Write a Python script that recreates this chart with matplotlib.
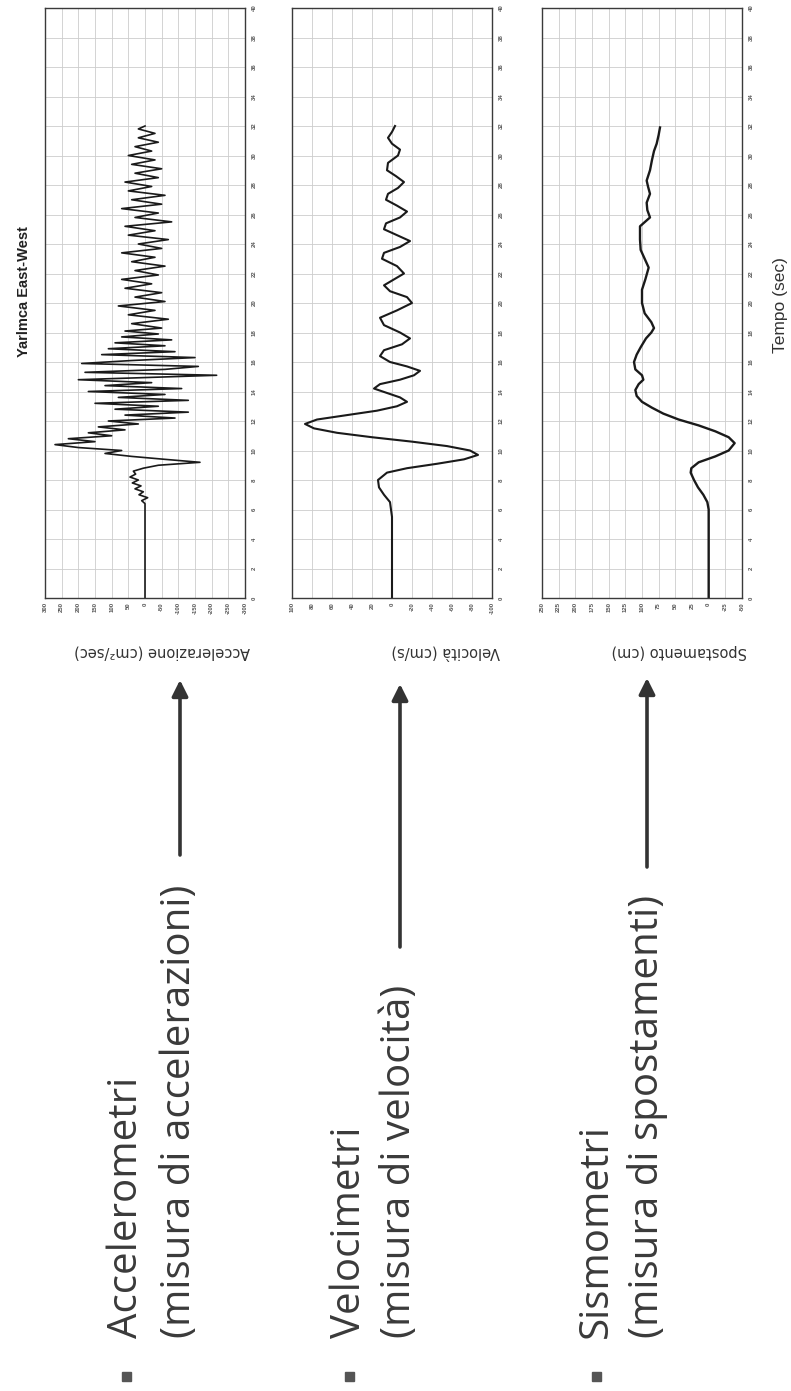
"""Rotated slide: seismometer types next to the Yarlmca East-West records."""

import matplotlib

matplotlib.use("Agg")

import matplotlib.pyplot as plt
from matplotlib.patches import FancyArrowPatch, Rectangle

W, H = 791, 1391

# ---- data -----------------------------------------------------------------
time_ticks = [0, 2, 4, 6, 8, 10, 12, 14, 16, 18, 20, 22, 24, 26, 28, 30, 32, 34, 36, 38, 40]
acc_ticks = [300, 250, 200, 150, 100, 50, 0, -50, -100, -150, -200, -250, -300]
vel_ticks = [100, 80, 60, 40, 20, 0, -20, -40, -60, -80, -100]
disp_ticks = [250, 225, 200, 175, 150, 125, 100, 75, 50, 25, 0, -25, -50]

acc_t = [0, 6.4, 6.6, 6.8, 7.0, 7.2, 7.4, 7.6, 7.8, 8.0, 8.2, 8.4, 8.6, 8.8, 9.0, 9.2,
         9.4, 9.6, 9.8, 10.0, 10.2, 10.4, 10.6, 10.8, 11.0, 11.2, 11.4, 11.6, 11.8,
         12.0, 12.2, 12.4, 12.6, 12.8, 13.0, 13.2, 13.4, 13.6, 13.8, 14.0, 14.2, 14.4,
         14.6, 14.8, 15.1, 15.3, 15.5, 15.7, 15.9, 16.1, 16.3, 16.5, 16.7, 16.9, 17.1,
         17.3, 17.5, 17.7, 17.9, 18.1, 18.3, 18.6, 18.9, 19.2, 19.5, 19.8, 20.1, 20.4,
         20.7, 21.0, 21.3, 21.6, 21.9, 22.2, 22.5, 22.8, 23.1, 23.4, 23.7, 24.0, 24.3,
         24.6, 24.9, 25.2, 25.5, 25.8, 26.1, 26.4, 26.7, 27.0, 27.3, 27.6, 27.9, 28.2,
         28.5, 28.8, 29.1, 29.4, 29.7, 30.0, 30.3, 30.6, 30.9, 31.2, 31.5, 31.8, 32.0]
acc_v = [0, 0, 10, -8, 18, 5, 30, 12, 38, 20, 45, 28, 35, 5, -40, -165,
         -60, 40, 120, 70, 200, 270, 150, 230, 100, 170, 60, 140, 20,
         110, -90, 60, -130, 90, -40, 150, -130, 80, -60, 170, -110, 120,
         -20, 200, -215, 180, -60, -160, 190, 40, -150, 130, -90, 110, -60,
         90, -80, 70, -40, 60, -50, 40, -70, 50, -30, 80, -60, 30,
         -50, 60, -20, 70, -40, 30, -60, 40, -30, 70, -50, 20, -70,
         50, -30, 60, -80, 30, -40, 70, -50, 40, -60, 50, -20, 60,
         -40, 30, -50, 40, -30, 50, -20, 30, -40, 20, -30, 20, 0]

vel_t = [0, 5.5, 6.5, 7.0, 7.5, 8.0, 8.5, 8.8, 9.1, 9.4, 9.7, 10.0, 10.3, 10.6, 10.9,
         11.2, 11.5, 11.8, 12.1, 12.4, 12.7, 13.0, 13.3, 13.6, 13.9, 14.2, 14.5, 14.8,
         15.1, 15.4, 15.7, 16.0, 16.4, 16.8, 17.2, 17.6, 18.0, 18.5, 19.0, 19.5, 20.0,
         20.4, 20.8, 21.2, 21.6, 22.0, 22.5, 23.0, 23.4, 23.8, 24.2, 24.6, 25.0, 25.4,
         25.8, 26.2, 26.6, 27.0, 27.4, 27.8, 28.2, 28.6, 29.0, 29.5, 30.0, 30.4, 30.8,
         31.2, 31.6, 32.0]
vel_v = [0, 0, 2, 8, 13, 14, 5, -15, -45, -72, -86, -78, -55, -20, 20,
         55, 78, 87, 75, 45, 15, -5, -15, -8, 5, 18, 12, -8,
         -22, -28, -15, 2, 12, 8, -10, -18, -8, 8, 12, -5, -20,
         -15, 2, 8, -2, -12, -5, 10, 8, -8, -18, -5, 8, 6,
         -8, -15, -5, 6, 4, -6, -12, -4, 5, 4, -6, -8, 0,
         4, 0, -3]

disp_t = [0, 6.0, 6.5, 7.0, 7.5, 8.0, 8.5, 8.8, 9.2, 9.6, 10.0, 10.5, 10.9, 11.3, 11.7,
          12.1, 12.5, 12.9, 13.3, 13.7, 14.1, 14.5, 14.8, 15.1, 15.5, 16.0, 16.5, 17.0,
          17.6, 18.0, 18.3, 18.7, 19.3, 20.0, 20.9, 21.6, 22.4, 23.0, 23.6, 24.3, 25.2,
          25.8, 26.3, 26.8, 27.4, 27.9, 28.3, 29.0, 29.7, 30.3, 30.8, 31.4, 31.9]
disp_v = [0, 0, 2, 8, 16, 22, 27, 26, 15, -10, -30, -39, -30, -10, 15,
          45, 68, 85, 100, 108, 110, 105, 98, 100, 110, 112, 108, 102,
          94, 86, 82, 86, 96, 100, 100, 95, 90, 96, 102, 103, 103,
          88, 92, 93, 88, 91, 93, 88, 85, 82, 78, 75, 73]

panel_labels = ["Accelerazione (cm²/sec)", "Velocità (cm/s)", "Spostamento (cm)"]
bullet_names = ["Accelerometri", "Velocimetri", "Sismometri"]
bullet_notes = ["(misura di accelerazioni)", "(misura di velocità)", "(misura di spostamenti)"]


def fx(px):
    return px / W


def fy(py):
    return 1 - py / H


def draw_panel(fig, box, times, values, ticks, lw):
    """One seismogram, drawn with time running upward and amplitude to the left."""

    left, top, right, bottom = box
    ax = fig.add_axes([fx(left), fy(bottom), (right - left) / W, (bottom - top) / H])
    ax.plot(values, times, color="#1a1a1a", linewidth=lw)
    ax.set_xlim(ticks[0], ticks[-1])
    ax.set_ylim(0, 40)
    ax.set_xticks(ticks)
    ax.set_xticklabels([str(v) for v in ticks], rotation=90, fontsize=4.3,
                       family="Liberation Sans", fontweight="bold", color="#555")
    ax.yaxis.tick_right()
    ax.set_yticks(time_ticks)
    ax.set_yticklabels([str(v) for v in time_ticks], rotation=90, fontsize=4.3,
                       family="Liberation Sans", fontweight="bold", color="#555",
                       va="center")
    ax.tick_params(axis="x", length=0, pad=3)
    ax.tick_params(axis="y", length=0, pad=5)
    ax.grid(color="#cccccc", linewidth=0.6)
    ax.set_axisbelow(True)
    for spine in ax.spines.values():
        spine.set_color("#3a3a3a")
        spine.set_linewidth(1.0)
    return ax


def main():
    fig = plt.figure(figsize=(W / 100, H / 100), dpi=100)
    fig.patch.set_facecolor("white")

    boxes = [(45, 8, 245, 598), (292, 8, 492, 598), (542, 8, 742, 598)]
    series = [(acc_t, acc_v, acc_ticks, 1.2), (vel_t, vel_v, vel_ticks, 1.5),
              (disp_t, disp_v, disp_ticks, 1.7)]
    for box, (times, values, ticks, lw) in zip(boxes, series):
        draw_panel(fig, box, times, values, ticks, lw)

    fig.text(fx(24), fy(292), "Yarlmca East-West", rotation=90, ha="center", va="center",
             fontsize=10.5, fontweight="bold", family="Liberation Sans", color="#222")
    fig.text(fx(781), fy(305), "Tempo (sec)", rotation=90, ha="center", va="center",
             fontsize=12.5, family="Liberation Sans", color="#333")

    label_right = [250, 500, 747]
    for x, label in zip(label_right, panel_labels):
        fig.text(fx(x), fy(652), label, rotation=180, ha="right", va="center",
                 fontsize=10.5, family="DejaVu Sans", color="#333")

    name_x = [127, 350, 597]
    note_x = [180, 400, 647]
    arrow_span = [(855, 680), (947, 684), (867, 678)]
    for nx, tx, (y0, y1), name, note in zip(name_x, note_x, arrow_span, bullet_names, bullet_notes):
        fig.add_artist(Rectangle((fx(nx - 5), fy(1381)), 9 / W, 9 / H,
                                 transform=fig.transFigure, color="#555555"))
        fig.text(fx(nx), fy(1338), name, rotation=90, ha="center", va="bottom",
                 fontsize=29, family="Open Sans", color="#3a3a3a")
        fig.text(fx(tx), fy(1338), note, rotation=90, ha="center", va="bottom",
                 fontsize=29, family="Open Sans", color="#3a3a3a")
        fig.add_artist(FancyArrowPatch((fx(tx), fy(y0)), (fx(tx), fy(y1)),
                                       transform=fig.transFigure, arrowstyle="-|>",
                                       mutation_scale=24, linewidth=2.6, color="#333333",
                                       shrinkA=0, shrinkB=0))

    fig.savefig("out.png", dpi=100)
    plt.close(fig)


if __name__ == "__main__":
    main()
